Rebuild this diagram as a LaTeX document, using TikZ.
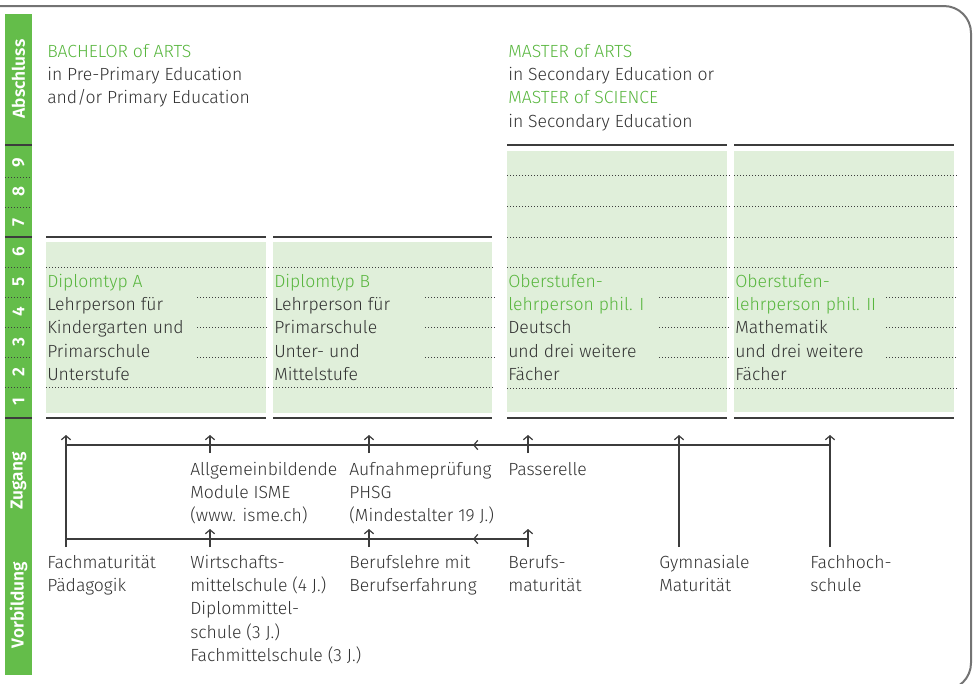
\documentclass[tikz,border=0pt]{standalone}
\usepackage{fontspec}
\setmainfont{Fira Sans}[UprightFont=* Light, BoldFont=* SemiBold]
\usetikzlibrary{arrows.meta}
\definecolor{gtext}{RGB}{88,182,62}
\definecolor{gbar}{RGB}{100,189,74}
\definecolor{gfill}{RGB}{224,239,218}
\definecolor{txt}{RGB}{50,50,50}
\definecolor{ln}{RGB}{60,60,60}
\definecolor{frm}{RGB}{115,115,115}
\newcommand{\gr}[1]{\textcolor{gtext}{#1}}
\begin{document}
\begin{tikzpicture}[x=0.75pt,y=-0.75pt,
  txtb/.style={anchor=north west, inner sep=0pt, align=left, text=txt,
    font=\fontsize{13.2}{17.5}\selectfont},
  solidl/.style={draw=ln, line width=1.1pt},
  dotl/.style={draw=ln, line width=0.75pt, dash pattern=on 0.75pt off 1.5pt},
  arr/.style={draw=ln, line width=0.9pt, -{Straight Barb[length=3pt,width=7pt]}},
  plainl/.style={draw=ln, line width=0.9pt},
  side/.style={rotate=90, text=white, inner sep=0pt,
    font=\bfseries\fontsize{13}{15}\selectfont},
  gbox/.style={fill=gfill, draw=none}]
\useasboundingbox (0,0) rectangle (975,683);
\clip (0,0) rectangle (975,683);
% frame
\draw[frm, line width=1.5pt, rounded corners=20.25pt] (0,6) -- (971,6) -- (971,690) -- (880,690);
% sidebar
\fill[gbar] (5,14) rectangle (32,675);
\foreach \yy in {145,237,418} {\draw[solidl] (5,\yy) -- (32,\yy);}
\foreach \yy in {177,207,267,297,327,357,387} {\draw[dotl] (5,\yy) -- (32,\yy);}
\node[side] (sAb) at (18.5,79) {Abschluss};
\node[side] (sZu) at (18.5,481) {Zugang};
\node[side] (sVo) at (18.5,605) {Vorbildung};
\foreach \n/\yy in {9/163,8/192,7/222,6/252,5/282,4/312,3/342,2/372,1/402}
  {\node[side] (sn\n) at (18.5,\yy) {\n};}
% boxes
\fill[gbox] (46,242) rectangle (266,413);
\fill[gbox] (273,242) rectangle (492,413);
\fill[gbox] (507,151) rectangle (727,412);
\fill[gbox] (734,151) rectangle (954,412);
\draw[solidl] (46,237) -- (266,237);
\draw[solidl] (273,237) -- (492,237);
\draw[solidl] (507,145) -- (727,145);
\draw[solidl] (734,145) -- (954,145);
\foreach \a/\b in {46/266,273/492,507/727,734/954} {\draw[solidl] (\a,418) -- (\b,418);}
\foreach \a/\b in {46/269,273/495} {
  \foreach \yy in {267,387} {\draw[dotl] (\a,\yy) -- (\b,\yy);}}
\foreach \a/\b in {507/730,734/957} {
  \foreach \yy in {175,206,237,267,388} {\draw[dotl] (\a,\yy) -- (\b,\yy);}}
\foreach \a/\b in {197/269,425/495,659/730,886/957} {
  \foreach \yy in {297,327,357} {\draw[dotl] (\a,\yy) -- (\b,\yy);}}
% top texts
\node[txtb] (tBach) at (47,40.7) {\strut\gr{BACHELOR of ARTS}\\in Pre-Primary Education\\and/or Primary Education};
\node[txtb] (tMast) at (508,40.7) {\strut\gr{MASTER of ARTS}\\in Secondary Education or\\\gr{MASTER of SCIENCE}\\in Secondary Education};
% box texts
\node[txtb] (tA) at (47,270.7) {\strut\gr{Diplomtyp A}\\Lehrperson für\\Kindergarten und\\Primarschule\\Unterstufe};
\node[txtb] (tB) at (274,270.7) {\strut\gr{Diplomtyp B}\\Lehrperson für\\Primarschule\\Unter- und\\Mittelstufe};
\node[txtb] (tC) at (508,270.7) {\strut\gr{Oberstufen-}\\\gr{lehrperson phil. I}\\Deutsch\\und drei weitere\\Fächer};
\node[txtb] (tD) at (735,270.7) {\strut\gr{Oberstufen-}\\\gr{lehrperson phil. II}\\Mathematik\\und drei weitere\\Fächer};
% Zugang texts
\node[txtb] (zAllg) at (190,458.7) {\strut Allgemeinbildende\\Module ISME\\(www. isme.ch)};
\node[txtb] (zAufn) at (349,458.7) {\strut Aufnahmeprüfung\\PHSG\\(Mindestalter 19 J.)};
\node[txtb] (zPass) at (508,458.7) {\strut Passerelle};
% Vorbildung texts
\node[txtb] (vFach) at (47,551.7) {\strut Fachmaturität\\Pädagogik};
\node[txtb] (vWirt) at (190,551.7) {\strut Wirtschafts-\\mittelschule (4 J.)\\Diplommittel-\\schule (3 J.)\\Fachmittelschule (3 J.)};
\node[txtb] (vBer) at (349,551.7) {\strut Berufslehre mit\\Berufserfahrung};
\node[txtb] (vBm) at (508,551.7) {\strut Berufs-\\maturität};
\node[txtb] (vGym) at (659,551.7) {\strut Gymnasiale\\Maturität};
\node[txtb] (vFh) at (810,551.7) {\strut Fachhoch-\\schule};
% connector coordinates
\coordinate (uL) at (66,445);
\coordinate (uR) at (830,445);
\coordinate (lL) at (66,539);
\coordinate (lR) at (528,539);
\coordinate (bL) at (66,547);   \coordinate (tL) at (66,435);
\coordinate (bG) at (679,547);  \coordinate (tG) at (679,435);
\coordinate (bF) at (830,547);  \coordinate (tF) at (830,435);
\foreach \xx/\nm in {210/a,369/b,528/c} {
  \coordinate (us\nm) at (\xx,453); \coordinate (ue\nm) at (\xx,435);
  \coordinate (ls\nm) at (\xx,547); \coordinate (le\nm) at (\xx,529);}
\coordinate (uTip) at (473,445);
\coordinate (lTip) at (473,539);
\coordinate (uC) at (528,445);
% connectors
\draw[plainl] (uL) -- (uR);
\draw[plainl] (lL) -- (lR);
\draw[arr] (bL) -- (tL);
\draw[arr] (bG) -- (tG);
\draw[arr] (bF) -- (tF);
\foreach \nm in {a,b,c} {\draw[arr] (us\nm) -- (ue\nm); \draw[arr] (ls\nm) -- (le\nm);}
\draw[arr] (uC) -- (uTip);
\draw[arr] (lR) -- (lTip);
\end{tikzpicture}
\end{document}
